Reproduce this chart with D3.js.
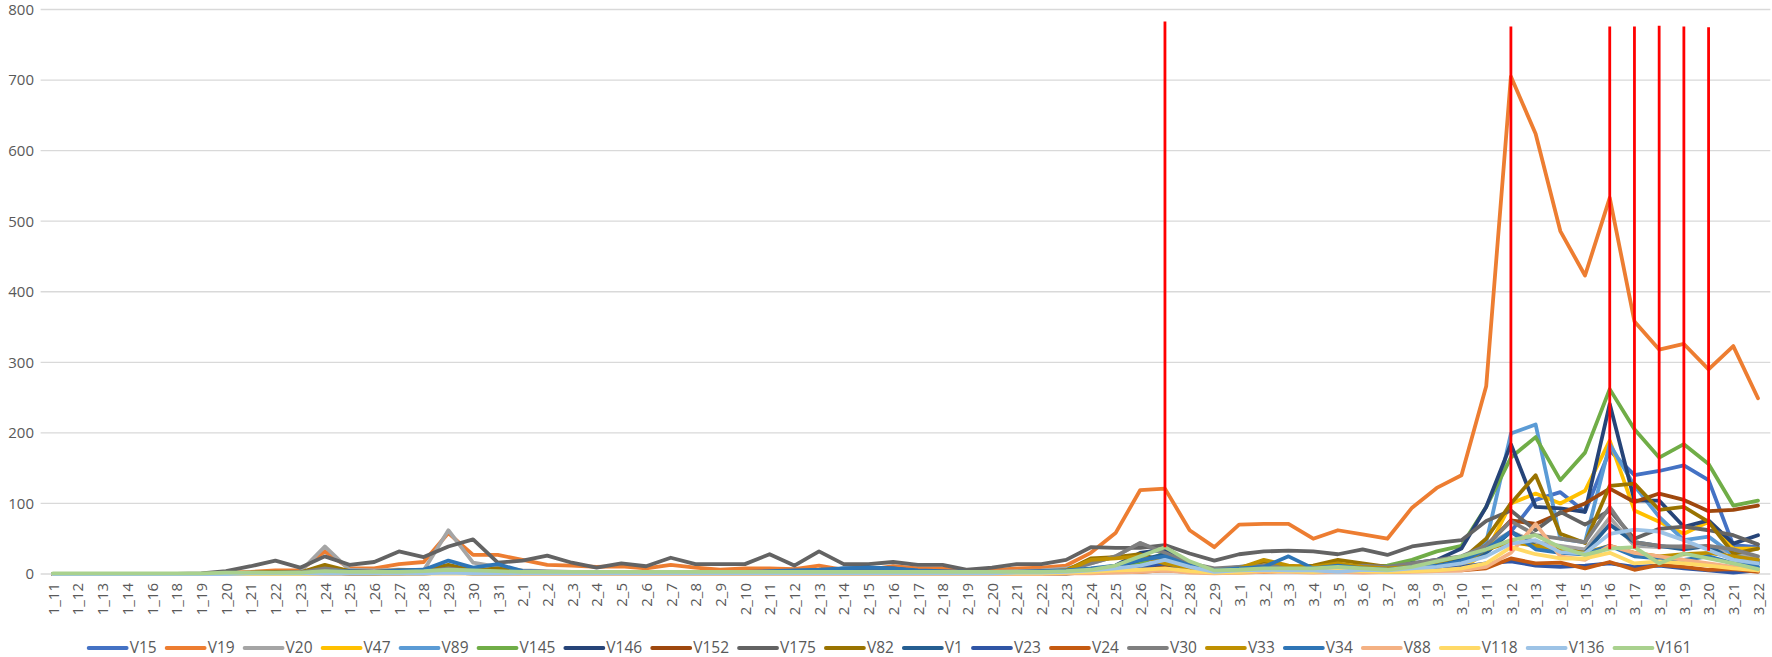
<!DOCTYPE html>
<html>
<head>
<meta charset="utf-8">
<script src="https://cdn.jsdelivr.net/npm/d3@7/dist/d3.min.js"></script>
<style>
html,body{margin:0;padding:0;background:#fff;}
svg{display:block;}
text{font-family:"Open Sans","Liberation Sans",sans-serif;fill:#595959;}
</style>
</head>
<body>
<svg id="chart" width="1772" height="657"></svg>
<script>
const categories = ["1_11","1_12","1_13","1_14","1_16","1_18","1_19","1_20","1_21","1_22","1_23","1_24","1_25","1_26","1_27","1_28","1_29","1_30","1_31",
"2_1","2_2","2_3","2_4","2_5","2_6","2_7","2_8","2_9","2_10","2_11","2_12","2_13","2_14","2_15","2_16","2_17","2_18","2_19","2_20","2_21","2_22","2_23","2_24","2_25","2_26","2_27","2_28","2_29",
"3_1","3_2","3_3","3_4","3_5","3_6","3_7","3_8","3_9","3_10","3_11","3_12","3_13","3_14","3_15","3_16","3_17","3_18","3_19","3_20","3_21","3_22"];

const yTicks = [0,100,200,300,400,500,600,700,800];

const seriesNames = ["V15","V19","V20","V47","V89","V145","V146","V152","V175","V82","V1","V23","V24","V30","V33","V34","V88","V118","V136","V161"];
const seriesColors = ["#4472C4","#ED7D31","#A5A5A5","#FFC000","#5B9BD5","#70AD47","#264478","#9E480E","#636363","#997300","#255E91","#2F55A5","#C55A11","#7F7F7F","#BF9000","#2E75B6","#F4B183","#FFD966","#9DC3E6","#A9D18E"];

const V15 = [0,0,0,0,0,0,0,0,1,1, 1,3,2,2,2,3,5,3,3,
  2,2,1,1,2,1,1,1,1,1, 1,1,2,2,2,2,1,1,1,1, 1,2,3,5,8,10,15,8,3,
  3,5,5,4,5,3,4,6,8,12,30, 60,105,116,88,175,140,146,154,133,41,38];
const V19 = [0,0,0,0,0,0,0,2,3,5, 5,32,8,8,14,17,58,27,27,
  20,13,12,10,11,8,13,9,6,8, 8,7,12,6,6,11,8,8,3,5, 8,9,12,30,58,119,121,62,38,
  70,71,71,50,62,56,50,94,122,140,266, 705,624,486,423,533,358,318,326,290,323,249];
const V20 = [0,0,0,0,0,0,0,1,2,3, 3,39,6,5,6,5,62,16,10,
  5,4,3,3,3,2,3,3,2,3, 3,3,3,3,3,3,3,3,2,3, 4,5,8,15,25,44,28,15,5,
  10,15,10,8,10,12,8,10,15,20,40, 60,45,40,35,80,40,38,40,38,30,20];
const V47 = [0,0,0,0,0,0,0,0,0,1, 1,2,1,1,1,1,2,1,1,
  1,1,1,1,1,1,1,1,1,1, 1,1,1,1,1,1,1,1,1,1, 1,1,1,2,4,6,10,5,2,
  2,3,5,3,3,5,3,4,5,8,30, 100,114,100,118,189,90,74,57,74,36,36];
const V89 = [0,0,0,0,0,0,0,0,1,1, 1,3,2,2,3,3,8,4,5,
  2,2,1,1,2,1,1,1,1,1, 1,1,1,2,2,2,1,1,1,1, 1,2,3,6,10,18,25,10,4,
  4,6,8,5,6,4,5,6,8,15,45, 199,212,50,45,184,125,81,48,53,27,17];
const V145 = [0,0,0,0,0,0,0,0,1,1, 1,2,1,1,2,2,4,3,2,
  2,2,1,1,2,1,3,2,1,1, 1,1,1,1,1,1,1,1,1,1, 1,1,2,4,8,15,30,15,5,
  5,5,8,6,8,10,12,20,32,40,95, 165,194,133,172,262,205,165,184,156,97,104];
const V146 = [0,0,0,0,0,0,0,0,0,1, 1,2,1,1,2,2,4,2,2,
  1,1,1,1,1,1,1,1,1,1, 1,1,1,1,1,1,1,1,1,1, 1,1,2,5,12,30,35,15,5,
  5,8,10,8,10,8,6,15,20,36,95, 184,95,93,88,241,104,104,67,76,43,55];
const V152 = [0,0,0,0,0,0,0,0,0,1, 1,2,1,1,1,2,3,2,2,
  1,1,1,1,1,1,1,1,1,1, 1,1,1,1,1,1,1,1,1,1, 1,1,1,3,5,8,10,8,4,
  8,6,10,8,5,8,5,10,12,20,40, 76,71,86,100,121,102,114,105,89,91,97];
const V175 = [0,0,0,0,0,0,1,4,11,19, 9,25,13,17,32,24,39,49,16,
  19,26,16,9,15,11,23,14,14,14, 28,12,32,14,14,17,13,13,6,9, 14,14,20,38,37,37,41,29,19,
  28,32,33,32,28,35,27,39,44,48,75, 90,62,88,70,90,50,64,67,62,55,42];
const V82 = [0,0,0,0,0,0,0,1,2,3, 2,13,4,3,5,5,13,5,8,
  3,3,2,2,2,2,3,2,2,2, 2,2,2,2,2,2,2,2,2,2, 2,3,5,22,24,28,18,8,3,
  8,18,10,12,20,15,10,12,15,20,50, 100,140,57,44,125,128,91,95,74,29,36];
const V1 = [0,0,0,0,0,0,0,0,1,1, 1,2,2,2,2,3,5,3,3,
  2,2,2,2,2,2,2,2,2,2, 2,3,4,8,9,8,4,3,2,2, 2,2,3,5,10,20,28,10,3,
  5,8,6,10,8,6,5,8,10,20,30, 60,40,35,30,70,45,40,35,40,20,15];
const V23 = [0,0,0,0,0,0,0,0,1,1, 1,1,1,1,1,1,2,1,1,
  1,1,1,1,1,1,1,1,1,1, 1,1,1,1,1,1,1,1,1,1, 1,1,1,2,5,10,15,6,2,
  8,6,5,5,6,5,5,6,8,10,15, 18,12,10,12,15,10,12,8,5,2,5];
const V24 = [0,0,0,0,0,0,0,0,1,1, 1,1,1,1,1,1,2,1,1,
  1,1,1,1,1,1,1,1,1,1, 1,1,1,1,1,1,1,1,1,1, 1,1,1,2,3,3,5,3,2,
  3,3,5,4,3,3,3,4,5,5,8, 22,15,16,8,17,6,13,10,6,7,3];
const V30 = [0,0,0,0,0,0,0,0,1,2, 2,8,3,2,3,3,8,4,3,
  2,2,2,2,2,2,3,2,2,2, 2,2,3,3,3,3,2,2,2,2, 3,4,5,15,25,44,30,15,8,
  10,12,10,8,10,12,10,15,20,25,40, 75,55,50,45,95,45,40,38,40,35,25];
const V33 = [0,0,0,0,0,0,0,0,1,1, 1,3,2,1,2,2,4,2,2,
  1,1,1,1,1,1,1,1,1,1, 1,1,1,1,1,1,1,1,1,1, 2,3,5,20,22,25,15,8,3,
  8,20,12,10,15,10,8,10,12,15,35, 45,40,35,30,40,30,25,28,30,25,20];
const V34 = [0,0,0,0,0,0,0,0,1,1, 1,3,4,3,5,6,19,9,14,
  4,3,2,2,3,2,2,2,2,3, 4,5,6,8,9,8,5,4,3,3, 3,4,5,8,12,20,25,12,5,
  8,10,25,8,12,8,6,10,12,18,35, 60,35,30,28,40,25,22,20,25,15,10];
const V88 = [0,0,0,0,0,0,0,0,0,0, 0,1,1,1,1,1,1,1,1,
  0,0,0,0,0,0,0,0,0,0, 0,0,0,0,0,0,0,0,0,0, 0,0,1,1,2,3,5,2,1,
  2,3,3,2,3,2,3,3,4,5,10, 30,71,25,20,40,30,25,20,15,10,5];
const V118 = [0,0,0,0,0,0,0,0,0,0, 0,1,1,1,1,1,1,1,1,
  1,1,1,1,1,1,1,1,1,1, 1,1,1,1,1,1,1,1,1,1, 1,1,2,3,5,6,8,4,2,
  3,5,4,3,5,4,3,4,5,8,15, 38,28,22,22,30,15,18,15,12,8,5];
const V136 = [0,0,0,0,0,0,0,0,1,1, 1,1,1,1,1,1,2,1,1,
  1,1,1,1,1,1,1,1,1,1, 1,1,1,1,1,1,1,1,1,1, 2,2,3,5,8,12,20,10,3,
  5,6,5,5,3,6,5,8,10,15,25, 43,48,31,29,57,63,60,48,34,20,15];
const V161 = [1,1,1,1,1,1,1,2,2,2, 2,4,3,3,3,4,6,5,4,
  3,3,3,3,3,3,3,3,3,3, 3,3,3,3,3,3,3,3,3,3, 3,3,4,6,12,25,38,18,5,
  6,8,8,8,10,8,6,10,18,25,35, 48,55,38,27,36,38,15,29,22,15,7];

const seriesValues = [V15,V19,V20,V47,V89,V145,V146,V152,V175,V82,V1,V23,V24,V30,V33,V34,V88,V118,V136,V161];

// red annotation lines
const markerCats = ["2_27","3_12","3_16","3_17","3_18","3_19","3_20"];
const markerTop = [783,776,776,776,777,776,775];
const markerBottom = [38,33,35,36,35,32,33];

const svg = d3.select("#chart");
svg.append("rect").attr("width",1772).attr("height",657).attr("fill","#fff");

const x = d3.scalePoint().domain(categories).range([53, 1758]);
const y = d3.scaleLinear().domain([0,800]).range([574, 9.5]);
const step = x.step();

// gridlines
svg.append("g").selectAll("line").data(yTicks).join("line")
  .attr("x1", x(categories[0]) - step/2).attr("x2", x(categories[categories.length-1]) + step/2)
  .attr("y1", d => y(d)).attr("y2", d => y(d))
  .attr("stroke","#d9d9d9").attr("stroke-width",1.3);

// y axis labels
const yAxis = d3.axisLeft(y).tickValues(yTicks).tickSize(0).tickPadding(0);
const gy = svg.append("g").attr("transform","translate(34,0)").call(yAxis);
gy.select(".domain").remove();
gy.selectAll("text").attr("font-size",15).attr("fill","#595959")
  .attr("font-family","'Open Sans','Liberation Sans',sans-serif");

// x axis labels
const xAxis = d3.axisBottom(x).tickSize(0).tickPadding(0);
const gx = svg.append("g").attr("transform","translate(0,583)").call(xAxis);
gx.select(".domain").remove();
gx.selectAll("text")
  .attr("font-size",15).attr("fill","#595959")
  .attr("font-family","'Open Sans','Liberation Sans',sans-serif")
  .attr("transform","rotate(-90)")
  .attr("text-anchor","end")
  .attr("dy","0.35em")
  .attr("x",0).attr("y",0);

// lines
const line = d3.line().x((d,i) => x(categories[i])).y(d => y(d)).curve(d3.curveLinear);
svg.append("g").selectAll("path").data(seriesValues).join("path")
  .attr("d", d => line(d))
  .attr("fill","none")
  .attr("stroke",(d,i) => seriesColors[i])
  .attr("stroke-width",3.8)
  .attr("stroke-linejoin","round")
  .attr("stroke-linecap","round");

// red markers
svg.append("g").selectAll("line").data(markerCats).join("line")
  .attr("x1", d => x(d)).attr("x2", d => x(d))
  .attr("y1", (d,i) => y(markerTop[i])).attr("y2", (d,i) => y(markerBottom[i]))
  .attr("stroke","#FF0000").attr("stroke-width",2.8);

// legend
const legend = svg.append("g");
let cx = 0;
seriesNames.forEach((name,i) => {
  const g = legend.append("g").attr("transform",`translate(${cx},0)`);
  g.append("line").attr("x1",0).attr("x2",38).attr("y1",0).attr("y2",0)
    .attr("stroke",seriesColors[i]).attr("stroke-width",3.8).attr("stroke-linecap","round");
  const t = g.append("text").attr("x",41).attr("y",0).attr("dy","0.35em")
    .attr("font-size",15.5).text(name);
  const w = t.node().getComputedTextLength();
  cx += 41 + w + 10;
});
const totalW = cx - 10;
legend.attr("transform",`translate(${(1772 - totalW)/2 + 4},648)`);
</script>
</body>
</html>
